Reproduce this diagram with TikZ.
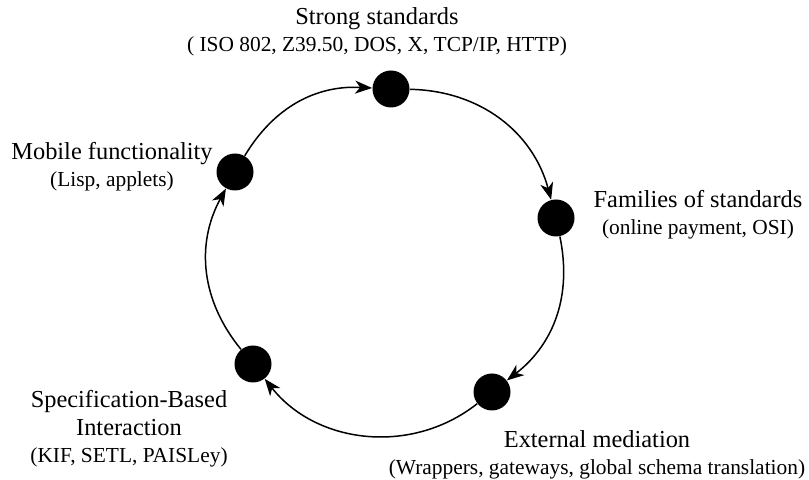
\documentclass[tikz,border=0pt]{standalone}
\usepackage{fontspec}
\setmainfont{Liberation Serif}
\usetikzlibrary{arrows.meta,positioning}
\newcommand\subline{\fontsize{10.7}{13.8}\selectfont}

\begin{document}
\begin{tikzpicture}[x=0.5pt, y=0.5pt, >={Stealth[length=8.5pt, width=6.5pt, inset=2.5pt]},
                    dot/.style={circle, fill=black, minimum size=18.5pt, inner sep=0pt},
                    txt/.style={align=center, anchor=base, inner sep=0pt, font=\fontsize{12.2}{13.8}\selectfont}]
                     \useasboundingbox (0,0) rectangle (809,480);

                     \node[dot] (strong) at (391,391) {};
                     \node[dot] (mobile) at (235,308) {};
                     \node[dot] (families) at (556,262) {};
                     \node[dot] (external) at (492,88) {};
                     \node[dot] (spec) at (253,116) {};

                     \node[txt] (strongtxt) at (377,428) {Strong standards\\{\subline( ISO 802, Z39.50, DOS, X, TCP/IP, HTTP)}};
                     \node[txt] (mobiletxt) at (112,293) {Mobile functionality\\{\subline(Lisp, applets)}};
                     \node[txt] (familiestxt) at (698,245) {Families of standards\\{\subline(online payment, OSI)}};
                     \node[txt] (externaltxt) at (597,5) {External mediation\\{\subline(Wrappers, gateways, global schema translation)}};
                     \node[txt] (spectxt) at (129,17) {Specification-Based\\Interaction\\{\subline(KIF, SETL, PAISLey)}};

                     \draw[->, line width=0.75pt] (mobile) to[bend left=31] (strong);
                     \draw[->, line width=0.75pt] (strong) to[bend left=37] (families);
                     \draw[->, line width=0.75pt] (families) to[bend left=32] (external);
                     \draw[->, line width=0.75pt] (external) to[bend left=45] (spec);
                     \draw[->, line width=0.75pt] (spec) to[bend left=34] (mobile);
              \end{tikzpicture}
\end{document}
